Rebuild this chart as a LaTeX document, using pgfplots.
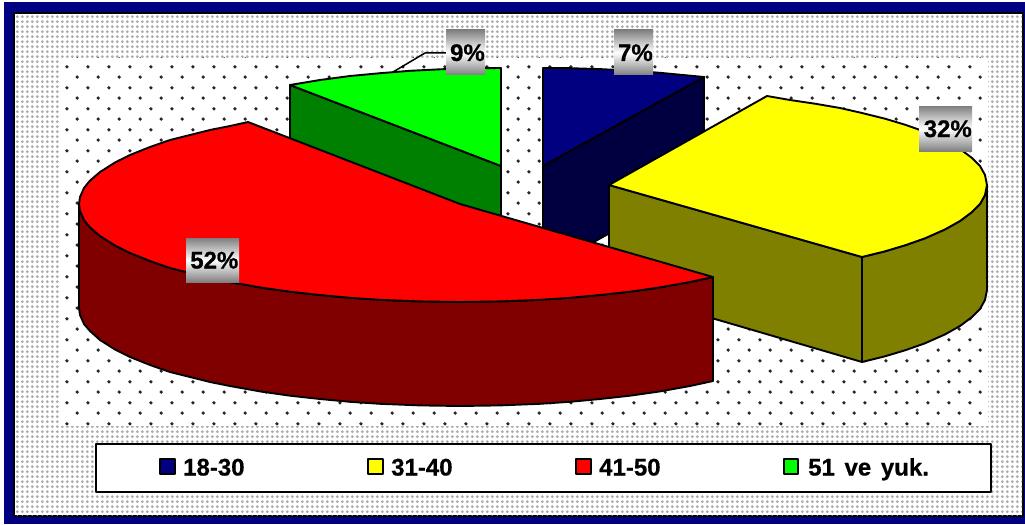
\documentclass[border=0pt]{standalone}
\usepackage{fontspec}
\setmainfont[BoldFeatures={FakeBold=0.6}]{Liberation Sans}
\usepackage{pgfplots}
\pgfplotsset{compat=1.18}
\usetikzlibrary{patterns}
\pgfdeclarepatternformonly{outerdots}{\pgfqpoint{0bp}{0bp}}{\pgfqpoint{5.3bp}{5.3bp}}{\pgfqpoint{5.3bp}{5.3bp}}{\pgfpathcircle{\pgfqpoint{2.65bp}{2.65bp}}{1.7bp}\pgfusepath{fill}}
\pgfdeclarepatternformonly{innerdots}{\pgfqpoint{0bp}{0bp}}{\pgfqpoint{21.2bp}{21.2bp}}{\pgfqpoint{21.2bp}{21.2bp}}{\pgfpathcircle{\pgfqpoint{4.1bp}{16.8bp}}{1.9bp}\pgfpathcircle{\pgfqpoint{14.7bp}{6.2bp}}{1.9bp}\pgfusepath{fill}}
\definecolor{navyc}{HTML}{000080}
\definecolor{navyd}{HTML}{000040}
\definecolor{olivec}{HTML}{808000}
\definecolor{redd}{HTML}{800000}
\definecolor{redc}{HTML}{FF0000}
\definecolor{yelc}{HTML}{FFFF00}
\definecolor{greenc}{HTML}{00FF00}
\definecolor{greend}{HTML}{008000}
\newcommand{\lab}{\fontsize{24bp}{28bp}\selectfont\bfseries}
\begin{document}
\begin{tikzpicture}
\begin{axis}[scale only axis,width=1025bp,height=524bp,xmin=0,xmax=1025,ymin=0,ymax=524,y dir=reverse,hide axis,no markers,
  every axis plot/.append style={line width=1.9bp,line join=round,solid}]
% frame
\addplot[fill=white,draw=none] coordinates {(0,0)(1025,0)(1025,524)(0,524)} -- cycle;
\addplot[fill=navyc,draw=none] coordinates {(4,2)(1025,2)(1025,524)(4,524)} -- cycle;
\addplot[fill=white,draw=black] coordinates {(14,13)(1023,13)(1023,516)(14,516)} -- cycle;
\addplot[pattern=outerdots,pattern color=black!32,draw=none] coordinates {(15,14)(1022,14)(1022,515)(15,515)} -- cycle;
% plot area
\addplot[fill=white,draw=none] coordinates {(61,58)(988,58)(988,426)(61,426)} -- cycle;
\addplot[pattern=innerdots,pattern color=black!85,draw=none] coordinates {(61,58)(988,58)(988,426)(61,426)} -- cycle;
% 51 ve yuk.
\addplot[fill=greend,draw=black] coordinates {(290,85)(501,166)(501,270)(290,190)} -- cycle;
\addplot[fill=greenc,draw=black] coordinates {(290,85)(320,80)(350,76)(380,73.2)(410,70.8)(440,69.3)(470,68.3)(501,68)(501,166)} -- cycle;
% 18-30
\addplot[fill=navyd,draw=black] coordinates {(543,166)(704,77)(704,181)(543,270)} -- cycle;
\addplot[fill=navyc,draw=black] coordinates {(543,68)(570,68.2)(600,69.1)(630,70.6)(660,72.8)(704,77)(543,166)} -- cycle;
% 31-40
\addplot[fill=olivec,draw=black] coordinates {(609,185)(862,257)(862,362)(609,288)} -- cycle;
\addplot[fill=olivec,draw=black] coordinates {(862,257)(885,251.3)(905,245.3)(925,238.3)(945,229.4)(960,221)(972,212)(980,204)(985,195)(987,185)(987,290)(985,300)(980,309)(972,317)(960,326)(945,334.4)(925,343.3)(905,350.3)(885,356.3)(862,362)} -- cycle;
\addplot[fill=yelc,draw=black] coordinates {(609,185)(767,96)(790,100)(815,103.7)(840,108)(862,113)(885,118.7)(905,124.7)(925,131.7)(945,140.6)(960,149)(972,158)(980,166)(985,175)(987,185)(985,195)(980,204)(972,212)(960,221)(945,229.4)(925,238.3)(905,245.3)(885,251.3)(862,257)} -- cycle;
% 41-50
\addplot[fill=redd,draw=black] coordinates {(79,204)(80,211)(84,220)(90,227.4)(100,236)(115,245.5)(130,253)(150,261)(170,268)(190,273)(210,278)(230,282)(260,287.4)(290,291.7)(320,295)(350,297.8)(380,299.8)(420,301.4)(460,302)(500,301.4)(540,299.8)(570,297.8)(600,295)(630,291.7)(660,287.4)(690,282)(713,277)(713,381)(690,386)(660,391.4)(630,395.7)(600,399)(570,401.8)(540,403.8)(500,405.4)(460,406)(420,405.4)(380,403.8)(350,401.8)(320,399)(290,395.7)(260,391.4)(230,386)(210,382)(190,377)(170,372)(150,365)(130,357)(115,349.5)(100,340)(90,331)(84,324)(80,315)(79,308)} -- cycle;
\addplot[fill=redc,draw=black] coordinates {(248,122)(230,126)(210,130)(190,135)(170,140)(150,147)(130,155)(115,162.5)(100,172)(90,180.6)(84,188)(80,197)(79,204)(80,211)(84,220)(90,227.4)(100,236)(115,245.5)(130,253)(150,261)(170,268)(190,273)(210,278)(230,282)(260,287.4)(290,291.7)(320,295)(350,297.8)(380,299.8)(420,301.4)(460,302)(500,301.4)(540,299.8)(570,297.8)(600,295)(630,291.7)(660,287.4)(690,282)(713,277)(460,204)} -- cycle;
% leader
\addplot[draw=black,line width=1.5bp] coordinates {(393,72)(425,53)(446,53)};
% legend
\addplot[fill=white,draw=black] coordinates {(96,444)(991,444)(991,492)(96,492)} -- cycle;
\addplot[fill=navyc,draw=black] coordinates {(160,459)(175,459)(175,474)(160,474)} -- cycle;
\addplot[fill=yelc,draw=black] coordinates {(368,459)(383,459)(383,474)(368,474)} -- cycle;
\addplot[fill=redc,draw=black] coordinates {(576,459)(591,459)(591,474)(576,474)} -- cycle;
\addplot[fill=greenc,draw=black] coordinates {(784,459)(798,459)(798,474)(784,474)} -- cycle;
\node[anchor=base west,inner sep=0pt,font=\lab] at (axis cs:183,475.5) {18-30};
\node[anchor=base west,inner sep=0pt,font=\lab] at (axis cs:391,475.5) {31-40};
\node[anchor=base west,inner sep=0pt,font=\lab] at (axis cs:599,475.5) {41-50};
\node[anchor=base west,inner sep=0pt,font=\lab] at (axis cs:808,475.5) {51\hspace{3bp} ve\hspace{3bp} yuk.};
% data labels
\node[minimum width=39bp,minimum height=45bp,inner sep=0pt,top color=black!50,bottom color=black!50,middle color=white] at (axis cs:465.5,52.5) {};
\node[minimum width=39bp,minimum height=45bp,inner sep=0pt,top color=black!50,bottom color=black!50,middle color=white] at (axis cs:633.5,52.5) {};
\node[minimum width=53bp,minimum height=45bp,inner sep=0pt,top color=black!50,bottom color=black!50,middle color=white] at (axis cs:945.5,128.5) {};
\node[minimum width=53bp,minimum height=44bp,inner sep=0pt,top color=black!50,bottom color=black!50,middle color=white] at (axis cs:212.5,260) {};
\node[anchor=base east,inner sep=0pt,font=\lab] at (axis cs:485,61) {9\%};
\node[anchor=base east,inner sep=0pt,font=\lab] at (axis cs:653,61) {7\%};
\node[anchor=base east,inner sep=0pt,font=\lab] at (axis cs:972,137) {32\%};
\node[anchor=base east,inner sep=0pt,font=\lab] at (axis cs:238.5,268.5) {52\%};
\end{axis}
\end{tikzpicture}
\end{document}
